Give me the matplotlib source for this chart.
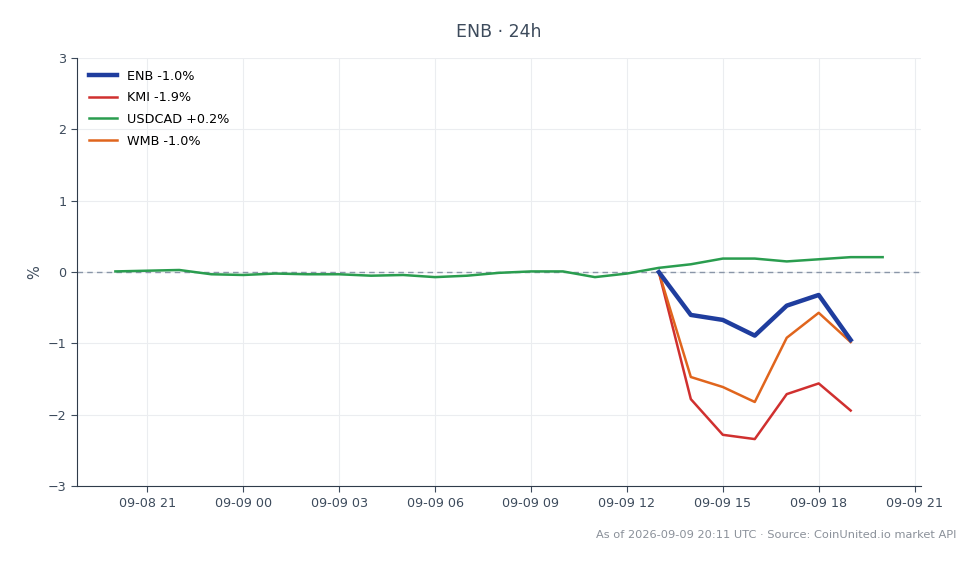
import matplotlib
matplotlib.use("Agg")
import matplotlib.pyplot as plt
import matplotlib.dates as mdates
import numpy as np
import pandas as pd

# hourly timestamps
usdcad_times = pd.date_range("2026-09-08 20:00", "2026-09-09 20:00", freq="h")
usdcad = [0.01, 0.02, 0.03, -0.03, -0.04, -0.02, -0.03, -0.03, -0.05, -0.04,
          -0.07, -0.05, -0.01, 0.01, 0.01, -0.07, -0.02, 0.06, 0.11, 0.19,
          0.19, 0.15, 0.18, 0.21, 0.21]

stock_times = pd.date_range("2026-09-09 13:00", "2026-09-09 19:00", freq="h")
enb = [0.0, -0.60, -0.67, -0.89, -0.47, -0.32, -0.95]
kmi = [0.0, -1.78, -2.28, -2.34, -1.71, -1.56, -1.94]
wmb = [0.0, -1.47, -1.61, -1.82, -0.92, -0.57, -0.98]

labels = ["ENB -1.0%", "KMI -1.9%", "USDCAD +0.2%", "WMB -1.0%"]

text_col = "#3d4b5c"

fig = plt.figure(figsize=(9.8, 5.64), dpi=100)
ax = fig.add_axes([0.0786, 0.138, 0.8612, 0.759])

ax.axhline(0, color="#8a96a8", lw=1, ls=(0, (4, 3)), zorder=1)
ax.plot(stock_times, enb, color="#1f3d9e", lw=3.2, label=labels[0], zorder=4)
ax.plot(stock_times, kmi, color="#d0302f", lw=1.8, label=labels[1], zorder=3)
ax.plot(usdcad_times, usdcad, color="#2a9d4f", lw=1.8, label=labels[2], zorder=3)
ax.plot(stock_times, wmb, color="#e0651d", lw=1.8, label=labels[3], zorder=3)

ax.set_ylim(-3, 3)
ax.set_yticks(range(-3, 4))
ax.set_yticklabels(["\u22123", "\u22122", "\u22121", "0", "1", "2", "3"])
ax.xaxis.set_major_locator(mdates.HourLocator(byhour=range(0, 24, 3)))
ax.xaxis.set_major_formatter(mdates.DateFormatter("%m-%d %H"))

ax.grid(True, color="#ebedf0", lw=0.8)
ax.set_axisbelow(True)
for s in ["top", "right"]:
    ax.spines[s].set_visible(False)
for s in ["left", "bottom"]:
    ax.spines[s].set_color("#2f3b4a")
ax.tick_params(colors=text_col, labelsize=9.2, length=4)
ax.set_ylabel("%", color=text_col, fontsize=10.5)

ax.set_title("ENB \u00b7 24h", color=text_col, fontsize=12.5, pad=15)
ax.legend(loc="upper left", frameon=False, fontsize=9.2, handlelength=2.2,
          borderaxespad=0.5, labelspacing=0.68)

fig.text(0.976, 0.042, "As of 2026-09-09 20:11 UTC \u00b7 Source: CoinUnited.io market API",
         ha="right", va="bottom", fontsize=8.2, color="#8a9099")

fig.savefig("out.png", dpi=100)
